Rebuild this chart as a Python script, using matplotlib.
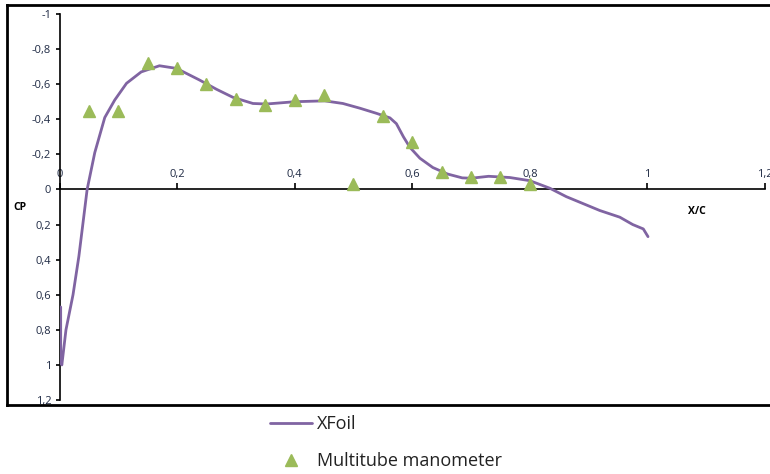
import matplotlib
matplotlib.use("Agg")
import matplotlib.pyplot as plt
from matplotlib.ticker import FuncFormatter
from matplotlib.lines import Line2D

# XFoil pressure distribution
xfoil_x = [0.002, 0.002, 0.004, 0.011, 0.023, 0.033, 0.040, 0.047, 0.060, 0.077,
           0.094, 0.114, 0.139, 0.170, 0.199, 0.238, 0.267, 0.295, 0.329, 0.352,
           0.400, 0.451, 0.482, 0.511, 0.539, 0.562, 0.573, 0.585, 0.596, 0.613,
           0.635, 0.660, 0.685, 0.700, 0.730, 0.766, 0.800, 0.834, 0.862, 0.919,
           0.953, 0.975, 0.993, 1.001]
xfoil_cp = [0.67, 0.98, 1.00, 0.80, 0.60, 0.38, 0.19, 0.00, -0.21, -0.41,
            -0.51, -0.605, -0.67, -0.705, -0.69, -0.624, -0.571, -0.525, -0.49, -0.487,
            -0.50, -0.505, -0.49, -0.463, -0.434, -0.408, -0.375, -0.30, -0.24, -0.178,
            -0.125, -0.088, -0.066, -0.064, -0.075, -0.068, -0.05, -0.007, 0.041, 0.12,
            0.158, 0.20, 0.225, 0.269]

# Multitube manometer measurements
mano_x = [0.05, 0.10, 0.15, 0.20, 0.25, 0.30, 0.35, 0.40, 0.45, 0.50,
          0.55, 0.60, 0.65, 0.70, 0.75, 0.80]
mano_cp = [-0.45, -0.45, -0.72, -0.69, -0.60, -0.515, -0.48, -0.51, -0.54, -0.03,
           -0.42, -0.27, -0.10, -0.07, -0.07, -0.03]

x_ticks = [0, 0.2, 0.4, 0.6, 0.8, 1.0, 1.2]
y_ticks = [-1, -0.8, -0.6, -0.4, -0.2, 0, 0.2, 0.4, 0.6, 0.8, 1.0, 1.2]

W, H = 770, 474
plt.rcParams['font.family'] = ['Open Sans', 'DejaVu Sans']
plt.rcParams['axes.unicode_minus'] = False
fig = plt.figure(figsize=(W / 100, H / 100), dpi=100)

# outer chart frame
frame_kw = dict(color='black', lw=2.0, transform=fig.transFigure, clip_on=False)
fig.add_artist(Line2D([7 / W, 1.0], [1 - 5 / H, 1 - 5 / H], **frame_kw))
fig.add_artist(Line2D([7 / W, 1.0], [1 - 405 / H, 1 - 405 / H], **frame_kw))
fig.add_artist(Line2D([7 / W, 7 / W], [1 - 5 / H, 1 - 405 / H], **frame_kw))

ax = fig.add_axes([59.5 / W, 1 - 400 / H, (765 - 59.5) / W, (400 - 14) / H])
ax.set_facecolor('none')

line, = ax.plot(xfoil_x, xfoil_cp, color='#8064A2', lw=2.0, solid_capstyle='round',
                solid_joinstyle='round', label='XFoil', zorder=3)
pts, = ax.plot(mano_x, mano_cp, linestyle='none', marker='^', color='#9BBB59',
               markersize=8, label='Multitube manometer', zorder=4)

ax.set_xlim(0, 1.2)
ax.set_ylim(1.2, -1)


def comma_fmt(v, p):
    if abs(v) < 1e-9:
        return '0'
    return ('%g' % round(v, 2)).replace('.', ',')


fmt = FuncFormatter(comma_fmt)
ax.set_xticks(x_ticks)
ax.set_yticks(y_ticks)
ax.xaxis.set_major_formatter(fmt)
ax.yaxis.set_major_formatter(fmt)

for s in ['right', 'bottom']:
    ax.spines[s].set_visible(False)
ax.spines['top'].set_position(('data', 0))
ax.spines['top'].set_linewidth(1.2)
ax.spines['left'].set_linewidth(1.2)
ax.xaxis.tick_top()
ax.tick_params(axis='x', direction='out', length=4, width=1.2, labelsize=8,
               pad=3, colors='black', labelcolor='#1f2a44')
ax.tick_params(axis='y', direction='out', length=3, width=1.2, labelsize=8,
               pad=3, colors='black', labelcolor='#1f2a44')

fig.text(13 / W, 1 - 207 / H, 'CP', fontsize=7.5, fontweight='bold', ha='left', va='center')
fig.text(697 / W, 1 - 211 / H, 'X/C', fontsize=7.5, fontweight='bold', ha='center', va='center')

fig.legend(handles=[line, pts], loc='upper left', bbox_to_anchor=(270 / W, 1 - 415 / H),
           frameon=False, fontsize=13, handlelength=2.3, handletextpad=0.28,
           labelspacing=1.05, borderpad=0, borderaxespad=0, labelcolor='#222222')

fig.savefig('out.png', dpi=100)
